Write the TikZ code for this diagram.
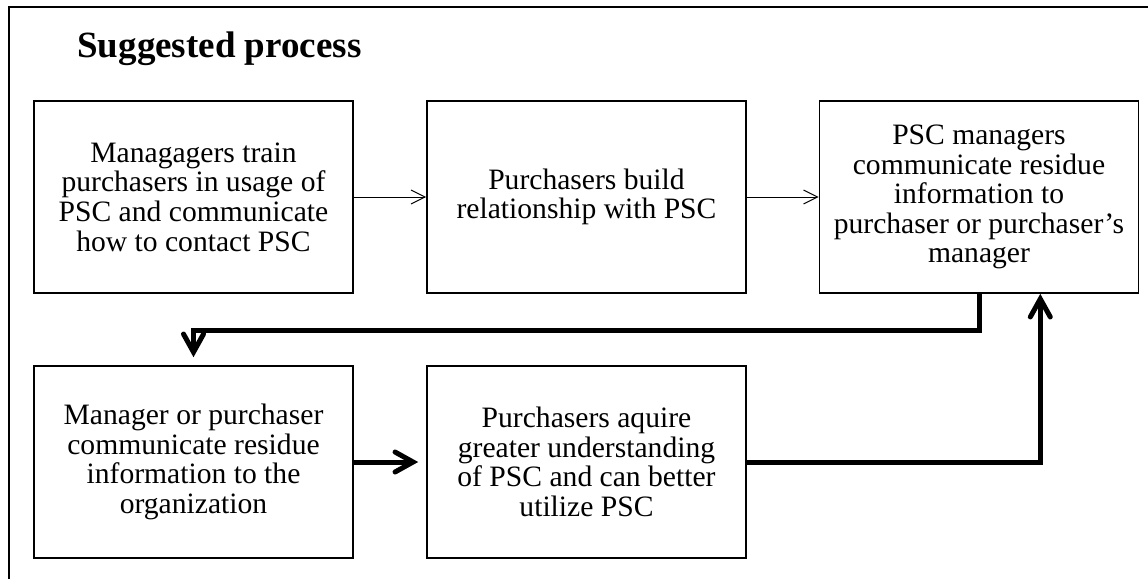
\documentclass[tikz,border=0pt]{standalone}
\usepackage{fontspec}
\setmainfont{Liberation Serif}
\usetikzlibrary{arrows.meta,calc}

\tikzset{
  stepbox/.style={draw, line width=0.8pt, minimum width=159.5pt, minimum height=96pt,
    inner sep=0pt, align=center, font=\fontsize{14.8}{14.8}\selectfont},
  thinarrow/.style={-{Straight Barb[length=7pt,width=7pt]}, line width=0.5pt},
  thickarrow/.style={-{Straight Barb[length=9pt,width=10pt,line cap=round]}, line width=2.5pt}
}

\begin{document}
\begin{tikzpicture}[x=0.5pt,y=-0.5pt]
        \useasboundingbox (0,0) rectangle (1148,579);
        \draw[line width=1pt] (9,579) -- (9,7) -- (1148,7);
        \node[anchor=base west, inner sep=0pt, font=\fontsize{18.5}{22}\selectfont\bfseries] (title) at (77,57) {Suggested process};
        % top row
        \node[stepbox] (A) at (193.5,197) {Managagers train\\purchasers in usage of\\PSC and communicate\\how to contact PSC};
        \node[stepbox] (B) at (586.5,197) {Purchasers build\\relationship with PSC};
        \node[stepbox] (C) at (979,197) {PSC managers\\communicate residue\\information to\\purchaser or purchaser's\\manager};
        % bottom row
        \node[stepbox] (D) at (193.5,462) {Manager or purchaser\\communicate residue\\information to the\\organization};
        \node[stepbox] (E) at (586.5,462) {Purchasers aquire\\greater understanding\\of PSC and can better\\utilize PSC};
        \coordinate (Cin) at ($(C.south east)+(-99,0)$);
        \draw[thinarrow] (A) -- (B);
        \draw[thinarrow] (B) -- (C);
        \draw[thickarrow] (C.south) -- ++(0,37) -| ([yshift=4pt]D.north);
        \draw[thickarrow, shorten >=4pt] (D) -- (E);
        \draw[thickarrow] (E.east) -| (Cin);
    \end{tikzpicture}
\end{document}
